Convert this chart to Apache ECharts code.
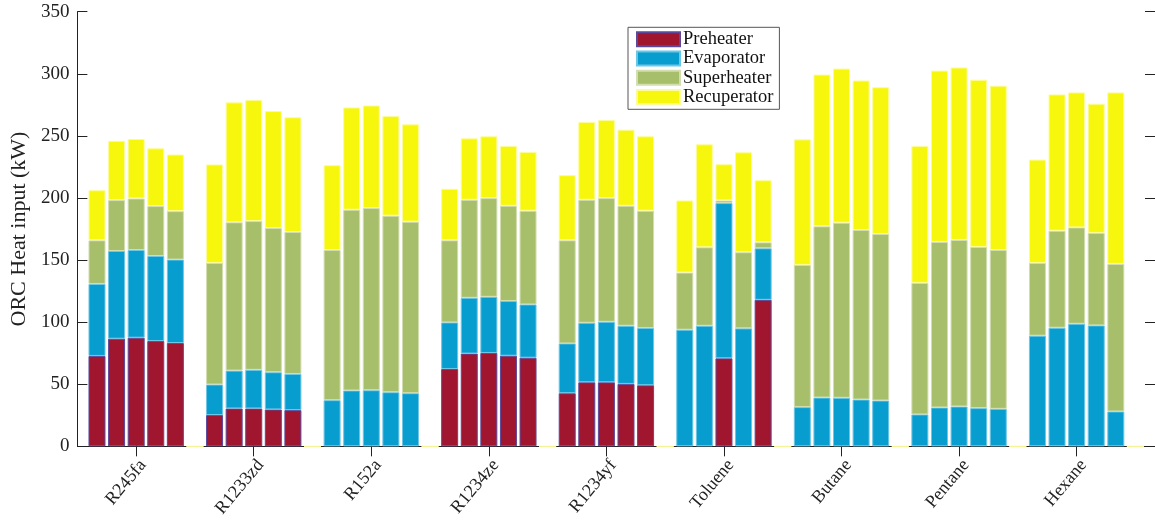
<!DOCTYPE html>
<html>
<head>
<meta charset="utf-8">
<script src="https://cdn.jsdelivr.net/npm/echarts@6/dist/echarts.min.js"></script>
<style>
html,body{margin:0;padding:0;background:#fff;}
#chart{width:1155px;height:520px;}
</style>
</head>
<body>
<div id="chart"></div>
<script>
// Working fluids (tick labels on the x axis)
const fluids = ['R245fa', 'R1233zd', 'R152a', 'R1234ze', 'R1234yf', 'Toluene', 'Butane', 'Pentane', 'Hexane'];
// Series names
const seriesNames = ['Preheater', 'Evaporator', 'Superheater', 'Recuperator'];
// y-axis ticks
const yTicks = [0, 50, 100, 150, 200, 250, 300, 350];

// Heat input per component (kW), 5 cases per fluid, in fluid order
const preheater = [
  72.8, 86.7, 87.5, 84.8, 83.2,
  25.2, 30.5, 30.5, 29.7, 29.2,
  0, 0, 0, 0, 0,
  62.3, 74.7, 75.2, 73.0, 71.4,
  42.8, 51.6, 51.6, 50.3, 49.2,
  0, 0, 70.9, 0, 118.0,
  0, 0, 0, 0, 0,
  0, 0, 0, 0, 0,
  0, 0, 0, 0, 0
];
const evaporator = [
  58.0, 70.6, 70.6, 68.5, 67.2,
  24.6, 30.5, 31.1, 30.0, 29.1,
  37.2, 45.0, 45.2, 43.6, 42.8,
  37.5, 44.9, 45.2, 44.0, 42.9,
  40.1, 47.9, 48.7, 46.8, 46.1,
  93.9, 97.1, 125.0, 95.0, 41.5,
  31.6, 39.3, 39.1, 37.7, 36.9,
  25.7, 31.3, 32.1, 30.8, 30.2,
  89.1, 95.5, 98.7, 97.4, 28.1
];
const superheater = [
  35.1, 41.0, 41.5, 40.2, 39.0,
  97.9, 119.4, 119.8, 116.1, 114.3,
  120.9, 145.5, 146.7, 142.1, 138.1,
  66.1, 78.9, 79.5, 76.7, 75.4,
  83.0, 99.0, 99.6, 96.6, 94.4,
  46.0, 63.2, 2.1, 61.3, 4.8,
  114.5, 137.9, 141.0, 136.5, 134.1,
  105.9, 133.3, 134.1, 129.8, 127.9,
  58.6, 78.1, 77.6, 74.4, 118.8
];
const recuperator = [
  40.4, 47.7, 47.9, 46.5, 45.6,
  79.3, 96.6, 97.6, 94.2, 92.4,
  68.3, 82.4, 82.6, 80.3, 78.4,
  41.5, 49.5, 49.8, 48.2, 47.4,
  52.5, 62.7, 62.9, 61.3, 60.0,
  58.1, 82.9, 29.2, 80.5, 50.0,
  101.1, 122.2, 124.1, 120.4, 118.2,
  110.3, 138.0, 138.9, 134.6, 132.3,
  83.2, 109.8, 108.7, 104.1, 138.1
];

const casesPerFluid = 5;
const slotsPerGroup = casesPerFluid + 1;           // one empty slot after each group
const nSlots = fluids.length * slotsPerGroup + 2;  // slot 0 and the last slot are the axis ends

// category slots
const slots = [];
for (let i = 0; i < nSlots; i++) slots.push(String(i));

function toSlots(values, emptyValue) {
  const out = new Array(nSlots).fill('-');
  fluids.forEach((f, g) => {
    for (let b = 0; b < casesPerFluid; b++) {
      const v = values[g * casesPerFluid + b];
      out[g * slotsPerGroup + 1 + b] = v === 0 ? '-' : v;
    }
    if (emptyValue !== undefined) out[g * slotsPerGroup + slotsPerGroup] = emptyValue;
  });
  return out;
}
function isCenter(idx) {
  return idx > 0 && (idx - 3) % slotsPerGroup === 0 && idx < nSlots - 1;
}
function labelOf(idx) {
  return isCenter(idx) ? fluids[(idx - 3) / slotsPerGroup] : '';
}

const colors = ['#A1162F', '#079DCF', '#A7BE6B', '#F7F70E'];
const borders = ['#5B4A9C', '#6CC6E6', '#D2DDB0', '#FBFB9A'];
const values = [preheater, evaporator, superheater, recuperator];

const FONT = 'Liberation Serif';
const chart = echarts.init(document.getElementById('chart'), null, {renderer: 'canvas'});

const series = seriesNames.map((name, k) => ({
  name: name,
  type: 'bar',
  stack: 'total',
  barWidth: 17,
  data: toSlots(values[k], k === 3 ? 0 : undefined),
  itemStyle: {color: colors[k], borderColor: borders[k], borderWidth: 1},
  emphasis: {disabled: true},
  animation: false
}));

chart.setOption({
  animation: false,
  backgroundColor: '#fff',
  grid: {left: 74.5, right: -5.2, top: 11.7, bottom: 72, containLabel: false},
  legend: {
    orient: 'vertical',
    left: 628,
    top: 27.3,
    padding: [2.4, 6, 2.7, 8],
    backgroundColor: '#fff',
    borderColor: '#555',
    borderWidth: 1,
    itemWidth: 43,
    itemHeight: 14,
    itemGap: 0.3,
    icon: 'rect',
    selectedMode: false,
    textStyle: {fontFamily: FONT, fontSize: 18.5, color: '#111', padding: [0, 0, 0, -2]},
    data: seriesNames
  },
  xAxis: [{
    type: 'category',
    data: slots,
    boundaryGap: false,
    position: 'bottom',
    axisLine: {show: true, lineStyle: {color: '#222', width: 1}},
    axisTick: {show: true, inside: true, length: 10, interval: (i) => isCenter(i), lineStyle: {color: '#222'}},
    axisLabel: {
      show: true, interval: (i) => isCenter(i), rotate: 50, margin: 10,
      verticalAlign: 'top',
      formatter: (v, i) => labelOf(i),
      fontFamily: FONT, fontSize: 18, color: '#222'
    },
    splitLine: {show: false}
  }, {
    type: 'category',
    data: slots,
    boundaryGap: false,
    position: 'top',
    axisLine: {show: true, lineStyle: {color: '#222', width: 1}},
    axisTick: {show: true, inside: true, length: 10, interval: (i) => isCenter(i), lineStyle: {color: '#222'}},
    axisLabel: {show: false},
    splitLine: {show: false}
  }],
  yAxis: [{
    type: 'value',
    min: yTicks[0],
    max: yTicks[yTicks.length - 1],
    interval: yTicks[1] - yTicks[0],
    position: 'left',
    name: 'ORC Heat input (kW)',
    nameLocation: 'middle',
    nameGap: 38,
    nameTextStyle: {fontFamily: FONT, fontSize: 22, color: '#222'},
    axisLine: {show: true, lineStyle: {color: '#222', width: 1}},
    axisTick: {show: true, inside: true, length: 10, lineStyle: {color: '#222'}},
    axisLabel: {margin: 8, fontFamily: FONT, fontSize: 19, color: '#222'},
    splitLine: {show: false}
  }, {
    type: 'value',
    min: yTicks[0],
    max: yTicks[yTicks.length - 1],
    interval: yTicks[1] - yTicks[0],
    position: 'right',
    axisLine: {show: true, lineStyle: {color: '#222', width: 1}},
    axisTick: {show: true, inside: true, length: 10, lineStyle: {color: '#222'}},
    axisLabel: {show: false},
    splitLine: {show: false}
  }],
  series: series
});
</script>
</body>
</html>
